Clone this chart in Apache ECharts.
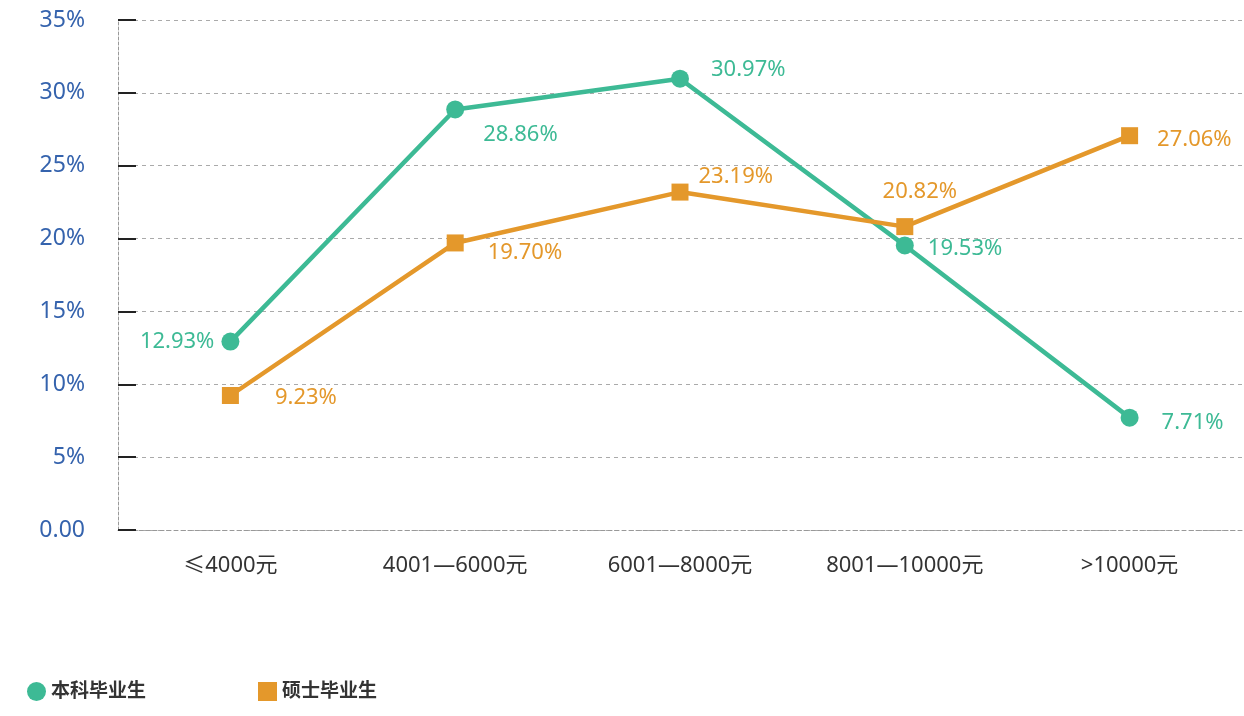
<!DOCTYPE html>
<html>
<head>
<meta charset="utf-8">
<script src="https://cdn.jsdelivr.net/npm/echarts@6/dist/echarts.min.js"></script>
<style>
  html, body { margin: 0; padding: 0; background: #fff; }
  #chart { width: 1244px; height: 716px; }
</style>
</head>
<body>
<div id="chart"></div>
<script>
var categories = ['≤4000元', '4001—6000元', '6001—8000元', '8001—10000元', '>10000元']
var bachelor = [12.93, 28.86, 30.97, 19.53, 7.71]
var master = [9.23, 19.70, 23.19, 20.82, 27.06]
var seriesNames = ['本科毕业生', '硕士毕业生']

var green = '#3dba95'
var orange = '#e4982b'
var font = '"Noto Sans", "Noto Sans CJK SC", sans-serif'

// label placement per point, tuned by eye
var bachelorLabels = [
  { position: 'left', distance: 7, offset: [0, 0] },
  { position: 'right', offset: [14, 25] },
  { position: 'right', offset: [17, -9] },
  { position: 'right', offset: [9, 3] },
  { position: 'right', offset: [18, 5] }
]
var masterLabels = [
  { position: 'right', offset: [31, 2] },
  { position: 'right', offset: [19, 10] },
  { position: 'right', offset: [5, -15] },
  { position: 'top', offset: [15, -10] },
  { position: 'right', offset: [14, 4] }
]

function withLabels(values, labels) {
  return values.map(function (v, i) {
    return { value: v, label: labels[i] }
  })
}

var chart = echarts.init(document.getElementById('chart'))
chart.setOption({
  animation: false,
  grid: {
    left: 118,
    right: 2,
    top: 20,
    bottom: 186
  },
  legend: {
    left: 22,
    top: 677,
    itemWidth: 19,
    itemHeight: 19,
    itemGap: 112,
    textStyle: {
      fontFamily: font,
      fontSize: 19,
      fontWeight: 'bold',
      color: '#333'
    },
    data: [
      { name: seriesNames[0], icon: 'circle' },
      { name: seriesNames[1], icon: 'rect' }
    ]
  },
  xAxis: {
    type: 'category',
    boundaryGap: true,
    data: categories,
    axisLine: {
      lineStyle: { color: '#999', type: [4, 3], width: 1 }
    },
    axisTick: {
      inside: true,
      length: 13,
      lineStyle: { color: '#aaa', type: [2, 2] }
    },
    axisLabel: {
      margin: 25,
      fontFamily: font,
      fontSize: 22,
      color: '#333'
    },
    splitLine: { show: false }
  },
  yAxis: {
    type: 'value',
    min: 0,
    max: 35,
    interval: 5,
    axisLine: {
      show: true,
      lineStyle: { color: '#999', type: [3, 2], width: 1 }
    },
    axisTick: {
      show: true,
      inside: true,
      length: 18,
      lineStyle: { color: '#222', width: 2 }
    },
    axisLabel: {
      margin: 33,
      fontFamily: font,
      fontSize: 23,
      color: '#3563ad',
      formatter: function (v) {
        return v === 0 ? '0.00' : v + '%'
      }
    },
    splitLine: {
      lineStyle: { color: '#aaa', type: [4, 4], width: 1 }
    }
  },
  series: [
    {
      name: seriesNames[0],
      type: 'line',
      symbol: 'circle',
      symbolSize: 18,
      itemStyle: { color: green },
      lineStyle: { color: green, width: 4.5 },
      label: {
        show: true,
        fontFamily: font,
        fontSize: 22,
        color: green,
        formatter: function (p) { return p.value.toFixed(2) + '%' }
      },
      data: withLabels(bachelor, bachelorLabels)
    },
    {
      name: seriesNames[1],
      type: 'line',
      symbol: 'rect',
      symbolSize: 17,
      itemStyle: { color: orange },
      lineStyle: { color: orange, width: 4.5 },
      label: {
        show: true,
        fontFamily: font,
        fontSize: 22,
        color: orange,
        formatter: function (p) { return p.value.toFixed(2) + '%' }
      },
      data: withLabels(master, masterLabels)
    }
  ]
})
</script>
</body>
</html>
